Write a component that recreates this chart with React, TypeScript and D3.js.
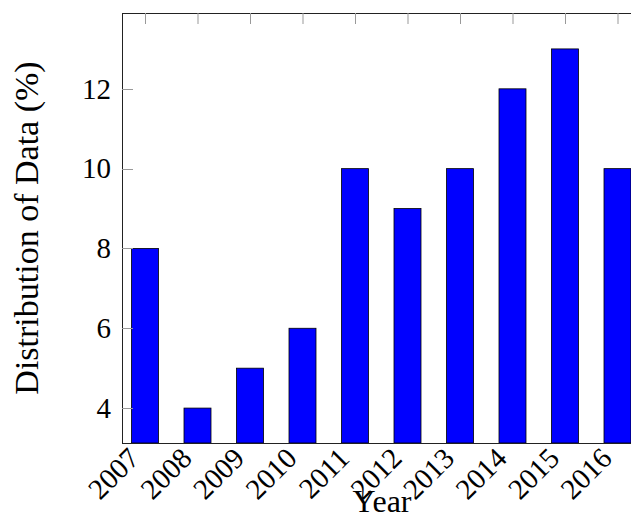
import React, { useRef, useEffect } from 'react';
import * as d3 from 'd3';

const years = ['2007', '2008', '2009', '2010', '2011', '2012', '2013', '2014', '2015', '2016'];
const shares = [8, 4, 5, 6, 10, 9, 10, 12, 13, 10];
const yTicks = [4, 6, 8, 10, 12];

const W = 631;
const H = 519;

const App = () => {
  const svgRef = useRef<SVGSVGElement>(null);

  useEffect(() => {
    const svg = d3.select(svgRef.current);
    svg.selectAll('*').remove();

    const left = 122, right = 640, top = 13, bottom = 443;
    const font = "'Liberation Serif', 'DejaVu Serif', serif";

    // point positions: 2007 at 145, step 52.5
    const x = d3.scalePoint<string>()
      .domain(years)
      .range([145, 145 + 52.5 * (years.length - 1)]);

    const y = d3.scaleLinear()
      .domain([3.125, 13.9])
      .range([bottom, top]);

    const barW = 27;

    // bars
    svg.append('g')
      .selectAll('rect')
      .data(shares)
      .enter().append('rect')
      .attr('x', (d, i) => x(years[i])! - barW / 2)
      .attr('y', d => y(d))
      .attr('width', barW)
      .attr('height', d => bottom - y(d))
      .attr('fill', '#0000ff')
      .attr('stroke', '#000')
      .attr('stroke-width', 0.8);

    // axis box
    svg.append('rect')
      .attr('x', left + 0.5)
      .attr('y', top + 0.5)
      .attr('width', right - left)
      .attr('height', bottom - top)
      .attr('fill', 'none')
      .attr('stroke', '#222')
      .attr('stroke-width', 1);

    // top ticks
    svg.append('g')
      .selectAll('line')
      .data(years)
      .enter().append('line')
      .attr('x1', d => x(d)! + 0.5)
      .attr('x2', d => x(d)! + 0.5)
      .attr('y1', top)
      .attr('y2', top + 11)
      .attr('stroke', '#999')
      .attr('stroke-width', 1);

    // left ticks
    svg.append('g')
      .selectAll('line')
      .data(yTicks)
      .enter().append('line')
      .attr('x1', left)
      .attr('x2', left + 11)
      .attr('y1', d => Math.round(y(d)) + 0.5)
      .attr('y2', d => Math.round(y(d)) + 0.5)
      .attr('stroke', '#999')
      .attr('stroke-width', 1);

    // y tick labels
    svg.append('g')
      .selectAll('text')
      .data(yTicks)
      .enter().append('text')
      .attr('x', left - 11)
      .attr('y', d => y(d))
      .attr('dy', '0.34em')
      .attr('text-anchor', 'end')
      .attr('font-family', font)
      .attr('font-size', 29)
      .text(d => d);

    // x tick labels, rotated 45deg, baseline end just left of the tick
    svg.append('g')
      .selectAll('text')
      .data(years)
      .enter().append('text')
      .attr('transform', d => `translate(${x(d)! - 4},${bottom + 17}) rotate(-45)`)
      .attr('text-anchor', 'end')
      .attr('font-family', font)
      .attr('font-size', 29)
      .text(d => d);

    // axis titles
    svg.append('text')
      .attr('x', 382)
      .attr('y', 512)
      .attr('text-anchor', 'middle')
      .attr('font-family', font)
      .attr('font-size', 32)
      .text('Year');

    svg.append('text')
      .attr('transform', `translate(38,228) rotate(-90)`)
      .attr('text-anchor', 'middle')
      .attr('font-family', font)
      .attr('font-size', 34)
      .text('Distribution of Data (%)');
  }, []);

  return (
    <svg ref={svgRef} width={W} height={H} style={{ position: 'absolute', left: 0, top: 0, background: '#fff' }} />
  );
};

export default App;
